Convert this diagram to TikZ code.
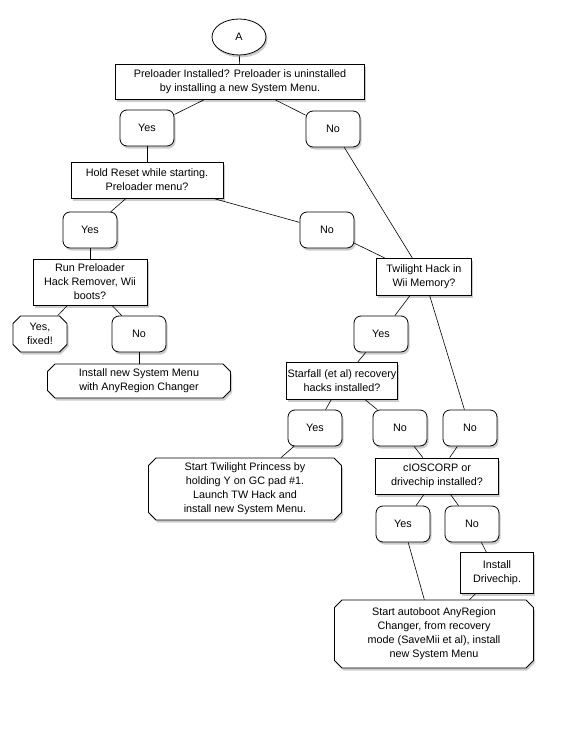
\documentclass[tikz,border=0pt]{standalone}
\usepackage{fontspec}
\setmainfont{Liberation Sans}
\usetikzlibrary{shapes.geometric,shapes.misc,shadows}

\tikzset{
  every node/.style={font=\fontsize{10.8}{14}\selectfont, align=center, inner sep=1pt},
  shade/.style={drop shadow={opacity=0.4, shadow xshift=1.5pt, shadow yshift=-2.5pt}},
  qbox/.style={draw, fill=white, rectangle, shade, line width=0.8pt},
  ansbox/.style={draw, fill=white, rectangle, rounded corners=7pt, shade, line width=0.8pt,
    minimum width=54pt, minimum height=36pt},
  endbox/.style={draw, fill=white, chamfered rectangle, chamfered rectangle xsep=4pt,
    shade, line width=0.8pt},
  startnode/.style={draw, fill=white, ellipse, shade, line width=0.8pt, inner sep=0pt,
    minimum width=54pt, minimum height=36pt},
  link/.style={line width=0.6pt}
}

\begin{document}
\begin{tikzpicture}[x=1pt, y=-1pt]
\useasboundingbox (0,0) rectangle (576,733);

% BOXES
\node[startnode] (A) at (239,37) {A};
\node[qbox, minimum width=249pt, minimum height=35pt] (pre) at (240,82)
  {Preloader Installed? Preloader is uninstalled\\by installing a new System Menu.};
\node[ansbox] (yes1) at (147,128) {Yes};
\node[ansbox] (no1) at (333,129) {No};
\node[qbox, minimum width=152pt, minimum height=36pt] (hold) at (147,180)
  {Hold Reset while starting.\\Preloader menu?};
\node[ansbox] (yes2) at (90,230) {Yes};
\node[ansbox] (no2) at (327,230) {No};
\node[qbox, minimum width=114pt, minimum height=46pt] (run) at (90,282)
  {Run Preloader\\Hack Remover, Wii\\boots?};
\node[endbox, minimum width=54pt, minimum height=36pt] (fixed) at (40,334) {Yes,\\fixed!};
\node[ansbox] (no3) at (139,334) {No};
\node[endbox, minimum width=183pt, minimum height=34pt] (install) at (139,381)
  {Install new System Menu\\with AnyRegion Changer};
\node[qbox, minimum width=95pt, minimum height=37pt] (twi) at (424,277)
  {Twilight Hack in\\Wii Memory?};
\node[ansbox] (yes4) at (381,334) {Yes};
\node[qbox, minimum width=110pt, minimum height=37pt] (star) at (342,381)
  {Starfall (et al) recovery\\hacks installed?};
\node[ansbox] (yes5) at (315,428) {Yes};
\node[ansbox] (no5) at (400,428) {No};
\node[ansbox] (no6) at (470,428) {No};
\node[endbox, minimum width=193pt, minimum height=62pt] (tp) at (245,489)
  {Start Twilight Princess by\\holding Y on GC pad \#1.\\Launch TW Hack and\\install new System Menu.};
\node[qbox, minimum width=123pt, minimum height=36pt] (cios) at (437,476)
  {cIOSCORP or\\drivechip installed?};
\node[ansbox] (yes7) at (403,524) {Yes};
\node[ansbox] (no7) at (472,524) {No};
\node[qbox, minimum width=73pt, minimum height=41pt] (drive) at (497,573)
  {Install\\Drivechip.};
\node[endbox, minimum width=199pt, minimum height=68pt] (auto) at (434,634)
  {Start autoboot AnyRegion\\Changer, from recovery\\mode (SaveMii et al), install\\new System Menu};

% LINES
\draw[link] (A) -- (pre);
\draw[link] (pre) -- (yes1);
\draw[link] (pre) -- (no1);
\draw[link] (yes1) -- (hold);
\draw[link] (no1) -- (twi);
\draw[link] (hold) -- (yes2);
\draw[link] (hold) -- (no2);
\draw[link] (no2) -- (twi);
\draw[link] (yes2) -- (run);
\draw[link] (run) -- (fixed);
\draw[link] (run) -- (no3);
\draw[link] (no3) -- (install);
\draw[link] (twi) -- (yes4);
\draw[link] (twi) -- (no6);
\draw[link] (yes4) -- (star);
\draw[link] (star) -- (yes5);
\draw[link] (star) -- (no5);
\draw[link] (yes5) -- (tp);
\draw[link] (no5) -- (cios);
\draw[link] (no6) -- (cios);
\draw[link] (cios) -- (yes7);
\draw[link] (cios) -- (no7);
\draw[link] (yes7) -- (auto);
\draw[link] (no7) -- (drive);
\draw[link] (drive) -- (auto);

\end{tikzpicture}
\end{document}
